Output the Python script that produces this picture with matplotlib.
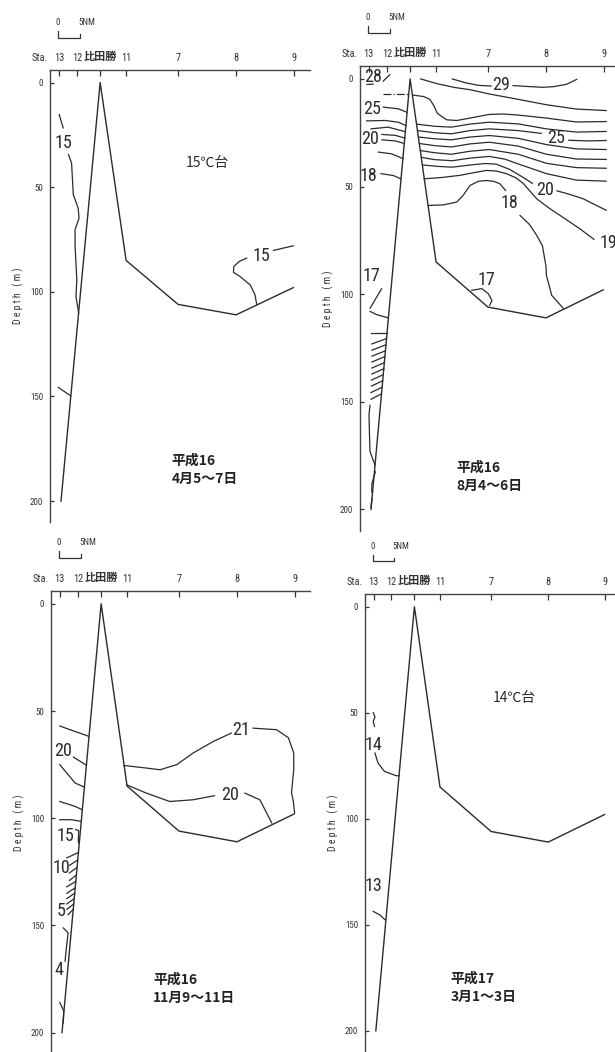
import matplotlib
matplotlib.use("Agg")
import matplotlib.pyplot as plt
from matplotlib import font_manager

names = {f.name for f in font_manager.fontManager.ttflist}
narrow = next((n for n in ["Liberation Sans Narrow", "Roboto Condensed", "DejaVu Sans"] if n in names), "DejaVu Sans")
jp = ["Noto Sans CJK JP", "DejaVu Sans"]
INK = "#2b2b2b"

# stations along the section, distance from the west end (NM)
STATION_X = [2.0, 6.1, 11.4, 17.3, 29.1, 42.3, 55.5]
STATION_NAMES = ["13", "12", "比田勝", "11", "7", "8", "9"]
DEPTH_TICKS = [0, 50, 100, 150, 200]

# sea bottom profile (NM, m)
BOTTOM_X = [2.5, 11.4, 17.3, 29.1, 42.3, 55.3]
BOTTOM_D = [200, 0, 85, 106, 111, 98]

# isotherms (x NM, depth m) and their labels, one set per cruise
APR_LINES = [
    ([2.1, 3.0], [15.3, 21.7]),
    ([4.2, 4.9, 5.3, 6.4, 6.6, 5.7, 5.7, 6.1, 5.9, 6.5], [34.4, 38.4, 53.6, 60, 64.8, 70.3, 78.3, 94.3, 102.2, 110]),
    ([1.9, 4.7], [145.7, 149.7]),
    ([47.0, 46.6, 45.5, 43.2, 41.7, 41.8, 43.0, 44.7], [106.2, 101.4, 96.7, 92.7, 90.7, 87.9, 85.5, 83.9]),
    ([50.8, 55.3], [80.2, 78.0]),
]
APR_LABELS = [("15", 3.0, 28.9), ("15", 48.1, 83.1)]

AUG_LINES = [
    # 29
    ([21, 24, 27, 29.8], [0, 1.8, 3.0, 3.3]),
    ([34.8, 38, 41.5, 44, 47, 49.3], [3.1, 3.5, 3.9, 3.6, 2.5, 0.2]),
    # 28 - 21, east of Hitakatsu
    ([13.8, 17.5, 21.6, 25, 29.4, 36, 42.4, 49.2, 56], [0, 2.2, 4, 5, 7, 9.5, 12, 14, 14.7]),
    ([12.0, 14.5, 15.9, 16.8, 17.6, 19.7, 22, 24, 26.5, 29.4, 32.6, 36, 42.4, 49.2, 56],
     [7.5, 8.2, 9.5, 12.5, 16, 19, 19.3, 18.6, 17.6, 16.5, 16.3, 16.8, 18.2, 20, 19.8]),
    ([12.9, 17, 20.8, 25, 29.4, 36, 42.4, 49.2, 56], [21, 22, 22.4, 21, 20.1, 20.9, 23.2, 24.7, 24.4]),
    ([13.1, 17, 20.8, 25, 29.4, 36, 41.2], [24, 25, 25.5, 24, 23.2, 24, 25.3]),
    ([47.5, 52, 56], [28.5, 28.8, 28.6]),
    ([13.3, 17, 20.8, 25, 29.4, 36, 42.4, 49.2, 56], [27, 27.8, 28.3, 27, 26.3, 27.6, 30.5, 32.5, 32.8]),
    ([13.5, 17, 20.8, 25, 29.4, 36, 42.4, 49.2, 56], [30, 31, 31.6, 30.2, 29.4, 31.2, 35, 37.2, 37.4]),
    ([13.8, 17, 20.8, 25, 29.4, 36, 42.4, 49.2, 56], [33.3, 34.3, 35, 33.6, 32.8, 35, 39.2, 41.2, 41.5]),
    ([14.1, 17, 21, 25, 29.4, 33, 36, 42.4, 49.2, 56], [36.5, 37.5, 38, 36.8, 36, 37.3, 39.5, 44, 47, 47.5]),
    # 20
    ([14.4, 17.5, 21, 25, 28.5, 31, 34, 36.5, 39.2], [40, 40.6, 41, 40, 39.3, 39.6, 42, 45, 48.5]),
    ([44.8, 47.5, 50.8, 53.5, 56], [52, 53.5, 55.7, 58.5, 61]),
    # 19
    ([14.6, 18.5, 22.7, 26, 28.8, 31, 33.3, 35.5, 37.1, 40.2, 43, 45.5, 50, 53.2],
     [46.4, 45.8, 44.8, 43.5, 42.5, 42.8, 44, 46, 48.5, 55.7, 60, 63.4, 69.6, 74.5]),
    # 18
    ([15.5, 19, 22, 23.5, 25, 27, 28.8, 30.5, 31.8, 33.1], [58.8, 58.5, 57.2, 54, 49.5, 47.5, 47.2, 47.6, 48.7, 51.8]),
    ([36.4, 38.5, 40.2, 41.5, 42, 42.3, 42.4, 43.6, 46.2], [63.4, 67.5, 72.7, 77.5, 83.5, 87, 91.2, 100.5, 106.5]),
    # 17 on the eastern slope
    ([25.4, 27.7, 29.2, 30, 29.5], [98.2, 97.4, 99.8, 102.9, 105.2]),
    # west of Hitakatsu
    ([5.3, 6.8], [1.0, -2.0]),
    ([1.6, 3.0], [2.6, 2.4]),
    ([5.3, 8.7, 10.7], [13.1, 13.9, 15.5]),
    ([1.5, 5.7, 8.7, 10.5], [19.5, 19.3, 20.1, 21.7]),
    ([2.5, 6.4, 10.3], [23.2, 22.4, 24.5]),
    ([5.0, 8, 10.2], [25.8, 26.2, 27.5]),
    ([5.0, 8, 10.1], [28.3, 28.8, 30]),
    ([4.2, 7.2, 9.75], [34, 34.8, 37]),
    ([4.8, 7.6, 9.3], [44, 44.9, 46.4]),
    ([2.3, 4.9], [106.5, 97.5]),
    ([2.3, 3.8, 6.45], [108, 109.5, 111]),
    ([2.4, 6.15], [118.0, 118.0]),
    ([2.7, 6.03], [123.1, 120.6]),
    ([2.7, 5.90], [126.0, 123.5]),
    ([2.7, 5.78], [128.8, 126.3]),
    ([2.7, 5.66], [131.5, 129.0]),
    ([2.7, 5.53], [134.3, 131.8]),
    ([2.7, 5.41], [137.1, 134.6]),
    ([2.6, 5.28], [139.9, 137.4]),
    ([2.6, 5.16], [142.7, 140.2]),
    ([2.5, 5.03], [145.7, 143.2]),
    ([2.5, 4.89], [148.8, 146.3]),
    ([2.27, 2.05, 2.1, 2.27, 3.4], [151.6, 156, 161, 173, 179.4]),
    ([3.5, 2.7, 2.7], [182.5, 188, 192]),
    ([2.7, 2.5], [195, 199]),
]
AUG_DASHED = [([5.3, 11.1], [7, 7])]
AUG_LABELS = [("29", 32.0, 2.8), ("25", 44.5, 27.4), ("20", 42.0, 51.5), ("19", 56.4, 76.3),
              ("18", 34.1, 57.6), ("17", 28.7, 93.5), ("28", 3.0, -1.0), ("25", 2.7, 14.0),
              ("20", 2.3, 27.8), ("18", 1.9, 45.0), ("17", 2.65, 91.5)]

NOV_LINES = [
    ([2.0, 8.6], [57, 61.8]),
    ([5.1, 8.0], [71.5, 75.2]),
    ([2.0, 3.9, 5.5, 7.6], [75, 79.7, 83.6, 85.5]),
    ([2.0, 5.5, 7.1], [92.2, 94.5, 96]),
    ([2.0, 4.7, 6.9], [100.7, 100.7, 101.5]),
    ([5.6, 6.3, 6.2, 6.3], [105.3, 105.8, 110.8, 111.5]),
    ([3.6, 6.24], [118.5, 116.0]),
    ([4.2, 6.08], [122.0, 119.5]),
    ([4.2, 5.93], [125.5, 123.0]),
    ([4.2, 5.77], [129.0, 126.5]),
    ([3.6, 5.64], [132.0, 129.5]),
    ([3.6, 5.50], [135.0, 132.5]),
    ([3.6, 5.39], [137.5, 135.0]),
    ([3.6, 5.28], [140.0, 137.5]),
    ([3.6, 5.17], [142.5, 140.0]),
    ([3.9, 5.06], [145.0, 142.5]),
    ([2.8, 3.9, 3.5, 3.2], [151.2, 153.5, 160.5, 166.7]),
    ([2.0, 2.9, 2.8], [186, 190, 195.5]),
    # 21
    ([16.6, 21.7, 24.8, 28.6, 32.3, 36.9, 41.0], [75.4, 76.6, 77.4, 75, 69.6, 64.2, 60.3]),
    ([46.0, 51.3, 54.0, 55.2, 55.2, 54.7, 55.1, 55.4], [58, 58.7, 62.5, 69.6, 77.4, 88, 92, 97.6]),
    # 20
    ([17.2, 21.7, 27, 32.3, 37.2], [84.4, 88.3, 92.2, 91.4, 89.5]),
    ([44.1, 47.5, 50.2], [88.3, 91.4, 102.2]),
]
NOV_LABELS = [("20", 2.8, 68.8), ("15", 3.2, 108.5), ("10", 2.4, 123.2), ("5", 2.3, 143.4),
              ("4", 1.9, 170.6), ("21", 43.3, 58.7), ("20", 40.7, 89.0)]

MAR_LINES = [
    ([1.9, 2.3, 1.9, 2.2], [50, 52, 54, 56.5]),
    ([2.3, 3.0, 4.5, 7.2, 7.9], [69, 73.7, 77.7, 79.7, 79.7]),
    ([1.9, 3.4, 4.6], [143.7, 145.3, 147.6]),
]
MAR_LABELS = [("14", 1.9, 65.1), ("13", 1.9, 131.9)]

W, H = 615, 1052
fig = plt.figure(figsize=(W / 100, H / 100), dpi=100)
fig.patch.set_facecolor("white")


def add_panel(left, top, width, height, xmax):
    ax = fig.add_axes([left / W, 1 - (top + height) / H, width / W, height / H])
    ax.set_xlim(0, xmax)
    ax.set_ylim(210, -6)
    ax.spines["right"].set_visible(False)
    ax.spines["bottom"].set_visible(False)
    for s in ("left", "top"):
        ax.spines[s].set_color("#444444")
        ax.spines[s].set_linewidth(1.0)
    ax.xaxis.tick_top()
    ax.set_xticks(STATION_X, STATION_NAMES)
    ax.tick_params(axis="x", direction="in", length=4, width=0.9, pad=5, labelsize=7.5, colors="#333333")
    for lab in ax.get_xticklabels():
        if lab.get_text() == "比田勝":
            lab.set_fontfamily(jp)
            lab.set_fontweight("bold")
            lab.set_fontsize(8)
        else:
            lab.set_fontfamily(narrow)
    ax.set_yticks(DEPTH_TICKS)
    ax.tick_params(axis="y", direction="in", length=3, width=0.9, pad=5, labelsize=6.5, colors="#333333")
    for lab in ax.get_yticklabels():
        lab.set_fontfamily(narrow)
    ax.set_ylabel("D e p t h   ( m )", fontsize=7, family=narrow, color="#333333", labelpad=4.5)
    ax.annotate("Sta.", xy=(-0.4, 1), xycoords=("data", "axes fraction"), xytext=(0, 5),
                textcoords="offset points", ha="right", va="bottom", fontsize=7.5, family=narrow, color="#333333")
    # 5 NM scale bar above the station row
    ax.plot([1.8, 1.8, 6.8, 6.8], [-24.5, -21.5, -21.5, -23.2], color="#333333", lw=0.9, clip_on=False)
    ax.text(1.8, -28.5, "0", ha="center", va="center", fontsize=6.5, family=narrow, color="#333333")
    ax.text(8.3, -28.5, "5NM", ha="center", va="center", fontsize=6.5, family=narrow, color="#333333")
    ax.plot(BOTTOM_X, BOTTOM_D, color=INK, lw=1.0)
    return ax


def draw_isotherms(ax, lines, labels, dashed=()):
    for xs, ds in lines:
        ax.plot(xs, ds, color=INK, lw=0.9, clip_on=False)
    for xs, ds in dashed:
        ax.plot(xs, ds, color=INK, lw=0.9, ls="-.")
    for txt, x, d in labels:
        ax.text(x, d, txt, ha="center", va="center", fontsize=13, family=narrow, color=INK, clip_on=False)


def add_date(ax, x, d, txt):
    ax.text(x, d, txt, ha="left", va="center", fontsize=10, family=jp, fontweight="bold",
            color="#222222", linespacing=1.35)


ax1 = add_panel(50, 70, 260, 452, 59.1)
draw_isotherms(ax1, APR_LINES, APR_LABELS)
ax1.text(35.7, 38.3, "15℃台", ha="center", va="center", fontsize=10, family=jp, color=INK)
add_date(ax1, 27.7, 185, "平成16\n4月5〜7日")

ax2 = add_panel(360, 66, 255, 465, 58.0)
draw_isotherms(ax2, AUG_LINES, AUG_LABELS, AUG_DASHED)
add_date(ax2, 22.0, 184.7, "平成16\n8月4〜6日")

ax3 = add_panel(51, 591, 259, 463, 58.9)
draw_isotherms(ax3, NOV_LINES, NOV_LABELS)
add_date(ax3, 23.2, 179.5, "平成16\n11月9〜11日")

ax4 = add_panel(365, 594, 250, 458, 57.7)
draw_isotherms(ax4, MAR_LINES, MAR_LABELS)
ax4.text(34.5, 43.0, "14℃台", ha="center", va="center", fontsize=10, family=jp, color=INK)
add_date(ax4, 19.7, 179.8, "平成17\n3月1〜3日")

fig.savefig("out.png", dpi=100, facecolor="white")
